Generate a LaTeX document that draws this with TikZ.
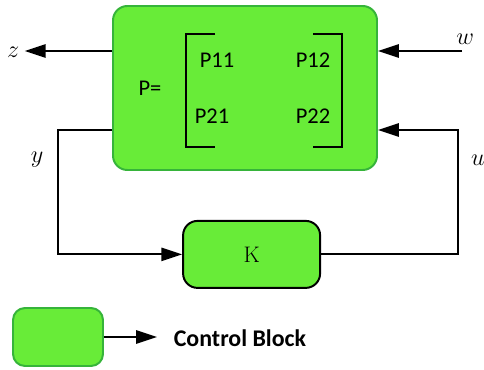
\documentclass[tikz,border=0pt]{standalone}
\usepackage{fontspec}
\usepackage{tikz}
\usetikzlibrary{positioning,arrows.meta,calc}
\newfontfamily\blockfont{Carlito}
\definecolor{blockfill}{HTML}{68EC38}
\definecolor{blockedge}{HTML}{36B43A}
\begin{document}
\begin{tikzpicture}[
  >={Triangle[length=5.2mm,width=3.3mm]}, line width=1.4pt,
  blk/.style={draw,fill=blockfill,rounded corners=3.6mm,inner sep=0pt},
  ent/.style={font=\blockfont\fontsize{16}{19}\selectfont},
  lab/.style={font=\fontsize{17}{20}\selectfont}
]
  \useasboundingbox (0,0) rectangle (12.1,-9.25);
  \node[blk,draw=blockedge,minimum width=6.6cm,minimum height=4.1cm] (P) at (6.125,-2.2) {};
  \node[blk,minimum width=3.425cm,minimum height=1.675cm] (K) at (6.29,-6.36) {\fontsize{16}{19}\selectfont K};
  \node[blk,draw=blockedge,rounded corners=3mm,minimum width=2.25cm,minimum height=1.45cm] (L) at (1.45,-8.425) {};
  \draw[line width=1.1pt] (5.375,-0.85) -- (4.65,-0.85) -- (4.65,-3.675) -- (5.375,-3.675);
  \draw[line width=1.1pt] (7.825,-0.85) -- (8.55,-0.85) -- (8.55,-3.675) -- (7.825,-3.675);
  \node[ent] (peq) at (3.75,-2.2) {P=};
  \node[ent] (p11) at (5.425,-1.5) {P11};
  \node[ent] (p12) at (7.825,-1.5) {P12};
  \node[ent] (p21) at (5.3,-2.9) {P21};
  \node[ent] (p22) at (7.825,-2.9) {P22};
  \coordinate (zend) at (0.62,-1.275);
  \coordinate (wbeg) at (11.55,-1.275);
  \node[lab] (zl) at (0.33,-1.3) {$z$};
  \node[lab] (wl) at (11.63,-0.98) {$w$};
  \node[lab] (yl) at (0.925,-4.0) {$y$};
  \node[lab] (ul) at (11.95,-4.0) {$u$};
  \draw[->] ([yshift=0.925cm]P.west) -- (zend);
  \draw[->] (wbeg) -- ([yshift=0.925cm]P.east);
  \draw[->] ([yshift=-1.05cm]P.west) -- ++(-1.35,0) |- (K.west);
  \draw[->] (K.east) -- ++(3.425,0) |- ([yshift=-1.05cm]P.east);
  \coordinate (cbtip) at (3.925,-8.425);
  \draw[->] (L.east) -- (cbtip);
  \node[font=\blockfont\bfseries\fontsize{17}{20}\selectfont] (cb) at (6.0,-8.45) {Control Block};
\end{tikzpicture}
\end{document}
